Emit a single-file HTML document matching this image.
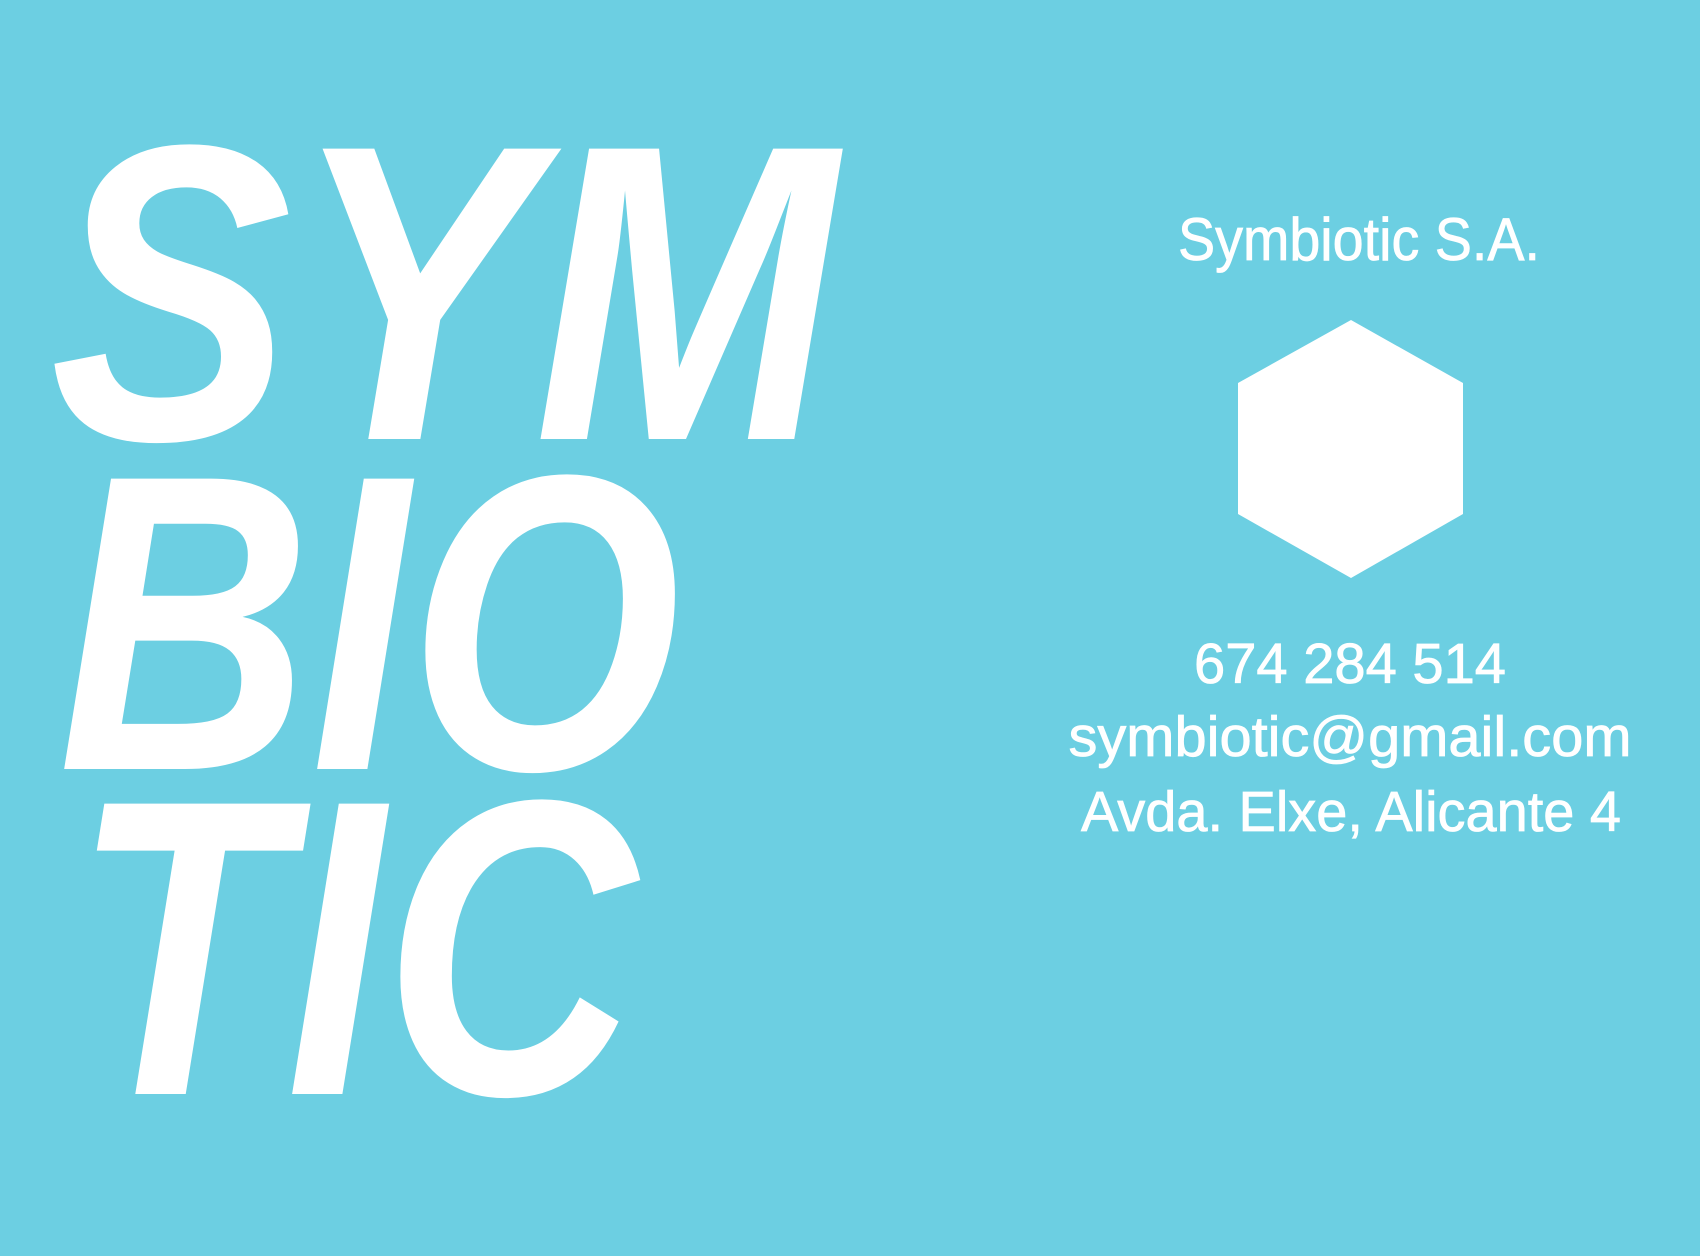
<!DOCTYPE html>
<html>
<head>
<meta charset="utf-8">
<style>
html,body{margin:0;padding:0;}
body{width:1700px;height:1256px;background:#6CCFE2;overflow:hidden;}
svg{display:block;}
.big{font-family:"Liberation Sans",sans-serif;font-weight:bold;font-style:italic;font-size:422px;fill:#fff;}
.info{font-family:"Liberation Sans",sans-serif;fill:#fff;stroke:#fff;stroke-width:0.8;}
</style>
</head>
<body>
<svg width="1700" height="1256" viewBox="0 0 1700 1256">
  <rect x="0" y="0" width="1700" height="1256" fill="#6CCFE2"/>
  <text class="big" x="0" y="0" transform="translate(50,439) scale(0.86,1)">SYM</text>
  <text class="big" x="0" y="0" transform="translate(58,769) scale(0.83,1)">BIO</text>
  <text class="big" x="0" y="0" transform="translate(72,1094) scale(0.83,1)">TIC</text>
  <text class="info" x="1359" y="260" text-anchor="middle" font-size="60" textLength="362" lengthAdjust="spacingAndGlyphs">Symbiotic S.A.</text>
  <polygon points="1351,320 1463,383 1463,514 1351,578 1238,514 1238,383" fill="#fff"/>
  <text class="info" x="1350" y="683" text-anchor="middle" font-size="57" textLength="312" lengthAdjust="spacingAndGlyphs">674 284 514</text>
  <text class="info" x="1350" y="756" text-anchor="middle" font-size="57" textLength="563" lengthAdjust="spacingAndGlyphs">symbiotic@gmail.com</text>
  <text class="info" x="1351" y="831" text-anchor="middle" font-size="57" textLength="540" lengthAdjust="spacingAndGlyphs">Avda. Elxe, Alicante 4</text>
</svg>
</body>
</html>
